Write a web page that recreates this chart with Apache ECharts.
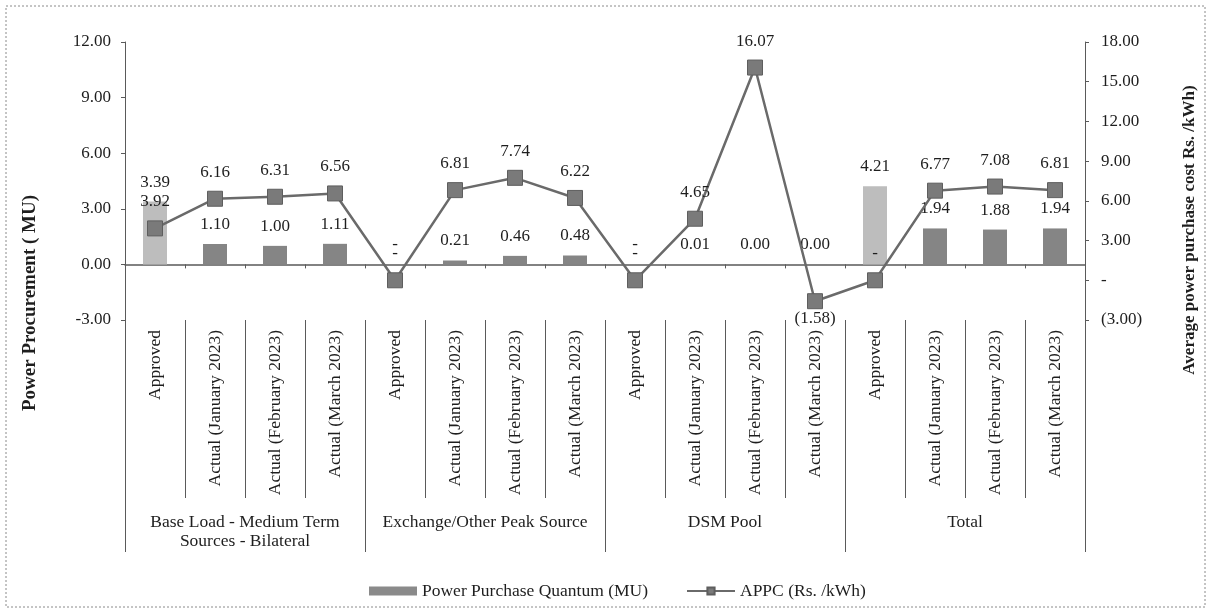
<!DOCTYPE html>
<html>
<head>
<meta charset="utf-8">
<script src="https://cdn.jsdelivr.net/npm/echarts@6/dist/echarts.min.js"></script>
<style>
  html, body { margin: 0; padding: 0; background: #fff; }
  #chart { width: 1211px; height: 610px; }
</style>
</head>
<body>
<div id="chart"></div>
<script>
// categories and groups
const categories = [
  'Approved', 'Actual (January 2023)', 'Actual (February 2023)', 'Actual (March 2023)',
  'Approved', 'Actual (January 2023)', 'Actual (February 2023)', 'Actual (March 2023)',
  'Approved', 'Actual (January 2023)', 'Actual (February 2023)', 'Actual (March 2023)',
  'Approved', 'Actual (January 2023)', 'Actual (February 2023)', 'Actual (March 2023)'
]
const groups = [
  'Base Load - Medium Term\nSources - Bilateral',
  'Exchange/Other Peak Source',
  'DSM Pool',
  'Total'
]
// Power Purchase Quantum (MU) - left axis
const quantumMU = [3.39, 1.10, 1.00, 1.11, 0, 0.21, 0.46, 0.48, 0, 0.01, 0.004, 0.003, 4.21, 1.94, 1.88, 1.94]
// APPC (Rs. /kWh) - right axis
const appc = [3.92, 6.16, 6.31, 6.56, 0, 6.81, 7.74, 6.22, 0, 4.65, 16.07, -1.58, 0, 6.77, 7.08, 6.81]
// axis ranges
const leftTicks = { min: -3, max: 12, interval: 3 }
const rightTicks = { min: -3, max: 18, interval: 3 }

const FONT = '"Liberation Serif", "Times New Roman", serif'
const TXT = '#1e1e1e'
const AXIS = '#5a5a5a'

function fmtNum (v) {
  if (v === 0) return '-'
  if (v < 0) return '(' + (-v).toFixed(2) + ')'
  return v.toFixed(2)
}

const chart = echarts.init(document.getElementById('chart'))
chart.setOption({
  backgroundColor: '#fff',
  animation: false,
  textStyle: { fontFamily: FONT, color: TXT },
  grid: { left: 125, right: 126, top: 42, bottom: 290, containLabel: false },
  legend: {
    top: 577,
    left: 364,
    itemWidth: 48,
    itemHeight: 9,
    itemGap: 38,
    textStyle: { fontFamily: FONT, fontSize: 17.5, color: TXT },
    data: [
      { name: 'Power Purchase Quantum (MU)', icon: 'rect', itemStyle: { color: '#8a8a8a' } },
      { name: 'APPC (Rs. /kWh)' }
    ]
  },
  xAxis: [
    {
      type: 'category',
      data: categories,
      position: 'bottom',
      axisLine: { show: false, onZero: false },
      axisTick: { show: true, interval: 0, length: 178, lineStyle: { color: AXIS } },
      axisLabel: { interval: 0, rotate: 90, margin: 10, fontFamily: FONT, fontSize: 17.5, color: TXT }
    },
    {
      type: 'category',
      data: groups,
      position: 'bottom',
      axisLine: { show: false, onZero: false },
      axisTick: { show: true, interval: 0, length: 232, lineStyle: { color: AXIS } },
      axisLabel: { interval: 0, margin: 193, fontFamily: FONT, fontSize: 17.5, lineHeight: 19, color: TXT }
    },
    {
      type: 'category',
      data: categories,
      position: 'bottom',
      axisLine: { show: true, onZero: true, onZeroAxisIndex: 0, lineStyle: { color: AXIS, width: 1.5 } },
      axisTick: { show: true, interval: 0, length: 4, lineStyle: { color: AXIS } },
      axisLabel: { show: false }
    }
  ],
  yAxis: [
    {
      type: 'value',
      position: 'left',
      min: leftTicks.min,
      max: leftTicks.max,
      interval: leftTicks.interval,
      splitLine: { show: false },
      axisLine: { show: true, lineStyle: { color: AXIS } },
      axisTick: { show: true, length: 4, lineStyle: { color: AXIS } },
      axisLabel: { margin: 14, fontFamily: FONT, fontSize: 17, color: TXT, formatter: v => v.toFixed(2) }
    },
    {
      type: 'value',
      position: 'right',
      min: rightTicks.min,
      max: rightTicks.max,
      interval: rightTicks.interval,
      splitLine: { show: false },
      axisLine: { show: true, lineStyle: { color: AXIS } },
      axisTick: { show: true, length: 4, lineStyle: { color: AXIS } },
      axisLabel: { margin: 16, fontFamily: FONT, fontSize: 17, color: TXT, formatter: fmtNum }
    }
  ],
  series: [
    {
      name: 'Power Purchase Quantum (MU)',
      type: 'bar',
      xAxisIndex: 0,
      yAxisIndex: 0,
      barWidth: 24,
      itemStyle: { color: '#858585' },
      data: quantumMU.map((v, i) => ({
        value: v,
        itemStyle: { color: i % 4 === 0 ? '#bdbdbd' : '#858585' }
      })),
      label: {
        show: true,
        position: 'top',
        distance: 11,
        fontFamily: FONT,
        fontSize: 17,
        color: TXT,
        formatter: p => fmtNum(p.value)
      },
      z: 2
    },
    {
      name: 'APPC (Rs. /kWh)',
      type: 'line',
      xAxisIndex: 0,
      yAxisIndex: 1,
      symbol: 'rect',
      symbolSize: 15,
      lineStyle: { color: '#6a6a6a', width: 2.5 },
      itemStyle: { color: '#7a7a7a', borderColor: '#5e5e5e', borderWidth: 1 },
      data: appc.map(v => v < 0 ? { value: v, label: { position: 'bottom', distance: 1 } } : v),
      label: {
        show: true,
        position: 'top',
        distance: 10,
        fontFamily: FONT,
        fontSize: 17,
        color: TXT,
        formatter: p => fmtNum(p.value)
      },
      z: 3
    }
  ],
  graphic: [
    {
      type: 'rect',
      shape: { x: 6, y: 6, width: 1199, height: 601 },
      style: { fill: 'none', stroke: '#8a8a8a', lineWidth: 1, lineDash: [2, 2] },
      silent: true
    },
    {
      type: 'text',
      x: 30,
      y: 303,
      rotation: Math.PI / 2,
      style: {
        text: 'Power Procurement ( MU)',
        font: 'bold 19px ' + FONT,
        fill: TXT,
        textAlign: 'center',
        textVerticalAlign: 'middle'
      }
    },
    {
      type: 'text',
      x: 1190,
      y: 230,
      rotation: Math.PI / 2,
      style: {
        text: 'Average power purchase cost Rs. /kWh)',
        font: 'bold 17px ' + FONT,
        fill: TXT,
        textAlign: 'center',
        textVerticalAlign: 'middle'
      }
    }
  ]
})
</script>
</body>
</html>
